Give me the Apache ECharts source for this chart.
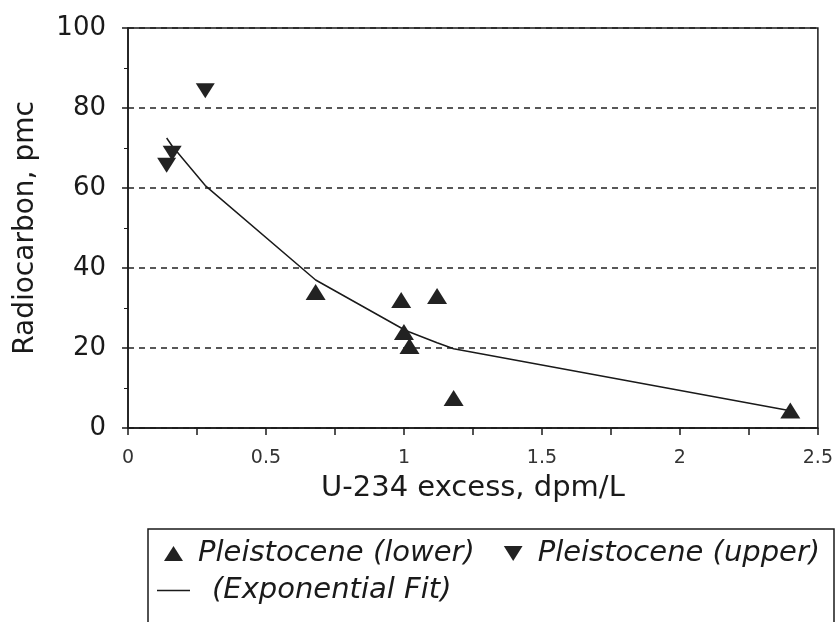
<!DOCTYPE html>
<html>
<head>
<meta charset="utf-8">
<script src="https://cdn.jsdelivr.net/npm/echarts@6/dist/echarts.min.js"></script>
<style>
    html, body { margin: 0; padding: 0; background: #fff; }
    #radiocarbon_chart { width: 836px; height: 622px; }
</style>
</head>
<body>
<div id="radiocarbon_chart"></div>
<script>
// 数据
var lowerX = [0.68, 0.99, 1.12, 1.0, 1.02, 1.18, 2.4];
var lowerY = [34, 32, 33, 24, 20.5, 7.5, 4.4];
var upperX = [0.28, 0.16, 0.14];
var upperY = [84.3, 68.7, 65.7];
var fitX = [0.14, 0.16, 0.28, 0.68, 0.99, 1.0, 1.02, 1.12, 1.18, 2.4];
var fitY = [72.5, 70.5, 60.6, 37, 25, 24.6, 24, 21.3, 19.8, 4.3];

var lowerName = 'Pleistocene (lower)';
var upperName = 'Pleistocene (upper)';
var fitName = '(Exponential Fit)';

function pairs(xs, ys) {
    var out = [];
    for (var i = 0; i < xs.length; i++) {
        out.push([xs[i], ys[i]]);
    }
    return out;
}

var myChart = echarts.init(document.getElementById('radiocarbon_chart'));

var ink = '#1a1a1a';
var font = 'DejaVu Sans';

// legend text with a left pad, like the gap in the scanned key
function legendText(pad) {
    return {
        color: ink,
        fontFamily: font,
        fontStyle: 'italic',
        fontSize: 29,
        rich: { t: { fontFamily: font, fontStyle: 'italic', fontSize: 29, color: ink, padding: [0, 0, 0, pad] } }
    };
}

var option = {
    backgroundColor: '#fff',
    animation: false,
    grid: {
        left: 128,
        right: 16,
        top: 28,
        bottom: 194,
        show: true,
        borderColor: ink,
        borderWidth: 1.5
    },
    xAxis: {
        type: 'value',
        min: 0,
        max: 2.5,
        interval: 0.5,
        name: 'U-234 excess, dpm/L',
        nameLocation: 'middle',
        nameGap: 46,
        nameTextStyle: { color: ink, fontFamily: font, fontSize: 29 },
        axisLine: { lineStyle: { color: ink, width: 1.5 } },
        axisTick: { length: 7, lineStyle: { color: ink, width: 1.5 } },
        minorTick: { show: true, splitNumber: 2, length: 7, lineStyle: { color: ink, width: 1.5 } },
        splitLine: { show: false },
        axisLabel: { color: '#333', fontFamily: font, fontSize: 19, margin: 21 }
    },
    yAxis: {
        type: 'value',
        min: 0,
        max: 100,
        interval: 20,
        name: 'Radiocarbon, pmc',
        nameLocation: 'middle',
        nameGap: 88,
        nameTextStyle: { color: ink, fontFamily: font, fontSize: 28 },
        axisLine: { show: true, lineStyle: { color: ink, width: 1.5 } },
        axisTick: { show: true, length: 6, lineStyle: { color: ink, width: 1.5 } },
        minorTick: { show: true, splitNumber: 2, length: 4, lineStyle: { color: ink, width: 1 } },
        splitLine: { show: true, lineStyle: { color: '#222', width: 1.5, type: [6, 5] } },
        axisLabel: { color: ink, fontFamily: font, fontSize: 26, margin: 22 }
    },
    legend: [
        {
            // first row: the two marker series
            data: [
                { name: lowerName, icon: 'triangle' },
                { name: upperName, icon: 'path://M0,0 L10,0 L5,8 Z' }
            ],
            left: 148,
            top: 529,
            orient: 'horizontal',
            padding: [10, 0, 0, 16],
            itemWidth: 19,
            itemHeight: 15,
            itemGap: 29,
            formatter: function (name) {
                return '{t|' + name + '}';
            },
            textStyle: legendText(10)
        },
        {
            // second row: the fit line
            data: [{ name: fitName, icon: 'rect' }],
            left: 157,
            top: 576,
            padding: 0,
            itemWidth: 33,
            itemHeight: 1.5,
            formatter: function (name) {
                return '{t|' + name + '}';
            },
            textStyle: legendText(17)
        }
    ],
    graphic: [
        {
            // legend frame
            type: 'rect',
            silent: true,
            shape: { x: 148, y: 529, width: 686, height: 120 },
            style: { fill: 'none', stroke: ink, lineWidth: 1.5 }
        }
    ],
    series: [
        {
            name: fitName,
            type: 'line',
            data: pairs(fitX, fitY),
            showSymbol: false,
            symbol: 'none',
            smooth: false,
            lineStyle: { color: ink, width: 1.5 },
            itemStyle: { color: ink },
            z: 2
        },
        {
            name: lowerName,
            type: 'scatter',
            data: pairs(lowerX, lowerY),
            symbol: 'triangle',
            symbolSize: [20, 16],
            itemStyle: { color: '#222', opacity: 1 },
            z: 3
        },
        {
            name: upperName,
            type: 'scatter',
            data: pairs(upperX, upperY),
            symbol: 'triangle',
            symbolRotate: 180,
            symbolSize: [19, 15],
            itemStyle: { color: '#222', opacity: 1 },
            z: 3
        }
    ]
};

// 使用刚指定的配置项和数据显示图表。
myChart.setOption(option);
</script>
</body>
</html>
